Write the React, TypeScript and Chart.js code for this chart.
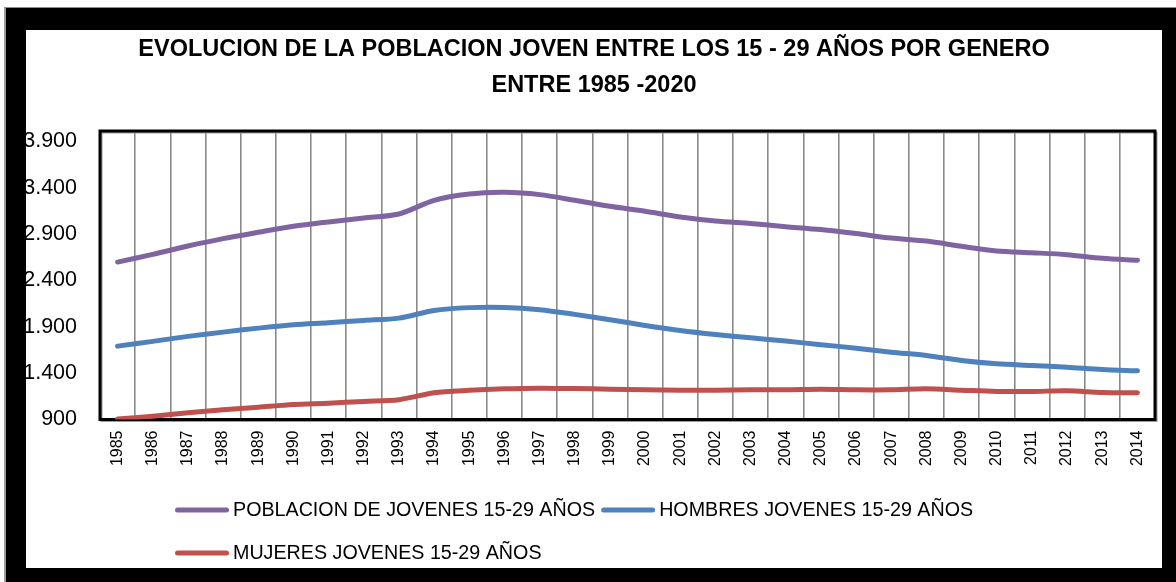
import React, { useEffect, useRef } from "react";
import { Chart, registerables } from "chart.js";

Chart.register(...registerables);

const years = ["1985","1986","1987","1988","1989","1990","1991","1992","1993","1994","1995","1996","1997","1998","1999","2000","2001","2002","2003","2004","2005","2006","2007","2008","2009","2010","2011","2012","2013","2014"];

const poblacion = [2597, 2680, 2770, 2850, 2918, 2983, 3030, 3072, 3115, 3263, 3331, 3349, 3324, 3263, 3198, 3144, 3083, 3040, 3012, 2979, 2947, 2904, 2856, 2824, 2767, 2716, 2698, 2677, 2637, 2616];
const hombres = [1691, 1742, 1796, 1842, 1885, 1922, 1943, 1968, 1993, 2076, 2106, 2108, 2083, 2033, 1976, 1914, 1860, 1817, 1781, 1745, 1707, 1669, 1626, 1591, 1537, 1501, 1483, 1464, 1440, 1425];
const mujeres = [905, 936, 972, 1005, 1033, 1062, 1076, 1095, 1113, 1188, 1215, 1231, 1238, 1234, 1227, 1220, 1216, 1216, 1220, 1220, 1227, 1220, 1220, 1231, 1216, 1202, 1202, 1210, 1191, 1188];

const seriesNames = ["POBLACION DE JOVENES 15-29 AÑOS", "HOMBRES JOVENES 15-29 AÑOS", "MUJERES JOVENES 15-29 AÑOS"];
const seriesColors = ["#8064A2", "#4F81BD", "#C0504D"];

const yTicks = [900, 1400, 1900, 2400, 2900, 3400, 3900];
const yMin = 900;
const yMax = 4010;

const titleLines = ["EVOLUCION DE LA POBLACION JOVEN ENTRE LOS 15 - 29 AÑOS POR GENERO", "ENTRE 1985 -2020"];

const FONT = "'Liberation Sans', Arial, sans-serif";

function fmt(v: number): string {
  return String(Math.round(v)).replace(/\B(?=(\d{3})+(?!\d))/g, ".");
}

const framePlugin = {
  id: "frame",
  beforeDatasetsDraw(chart: any) {
    const { ctx, chartArea: a } = chart;
    ctx.save();
    ctx.strokeStyle = "#9a9a9a";
    ctx.lineWidth = 2;
    ctx.strokeRect(a.left + 1.5, a.top + 1.5, a.right - a.left, a.bottom - a.top);
    ctx.strokeStyle = "#000";
    ctx.lineWidth = 3;
    ctx.strokeRect(a.left, a.top, a.right - a.left, a.bottom - a.top);
    ctx.restore();
  },
};

const legendPlugin = {
  id: "customLegend",
  afterDraw(chart: any) {
    const { ctx } = chart;
    const ds = chart.data.datasets;
    ctx.save();
    ctx.font = `19.7px ${FONT}`;
    ctx.textBaseline = "middle";
    ctx.textAlign = "left";
    const drawItem = (i: number, x: number, y: number) => {
      ctx.strokeStyle = ds[i].borderColor;
      ctx.lineWidth = 5;
      ctx.lineCap = "round";
      ctx.beginPath();
      ctx.moveTo(x + 2.5, y);
      ctx.lineTo(x + 51.5, y);
      ctx.stroke();
      ctx.fillStyle = "#000";
      ctx.fillText(ds[i].label, x + 58, y + 1);
      return x + 58 + ctx.measureText(ds[i].label).width;
    };
    const row1 = 480;
    const row2 = 523;
    const x0 = 149;
    const end1 = drawItem(0, x0, row1);
    drawItem(1, end1 + 6, row1);
    drawItem(2, x0, row2);
    ctx.restore();
  },
};

export default function App() {
  const ref = useRef<HTMLCanvasElement>(null);
  useEffect(() => {
    if (!ref.current) return;
    const seriesData = [poblacion, hombres, mujeres];
    const chart = new Chart(ref.current, {
      type: "line",
      data: {
        labels: years,
        datasets: seriesData.map((d, i) => ({
          label: seriesNames[i],
          data: d,
          borderColor: seriesColors[i],
          backgroundColor: seriesColors[i],
          borderWidth: 5,
          pointRadius: 0,
          tension: 0.3,
          borderCapStyle: "round" as const,
          borderJoinStyle: "round" as const,
          fill: false,
        })),
      },
      options: {
        responsive: false,
        animation: false,
        layout: { padding: { left: 0, right: 0, top: 0, bottom: 98.5 } },
        plugins: {
          legend: { display: false },
          tooltip: { enabled: false },
          title: {
            display: true,
            text: titleLines,
            color: "#000",
            font: { family: FONT, size: 23.5, weight: "bold", lineHeight: "36px" },
            padding: { top: 2, bottom: 27 },
          },
        },
        scales: {
          x: {
            offset: true,
            grid: { display: true, offset: true, color: "#8a8a8a", lineWidth: 1.6, drawTicks: false },
            border: { display: false },
            ticks: {
              color: "#000",
              font: { family: FONT, size: 16 },
              minRotation: 90,
              maxRotation: 90,
              autoSkip: false,
              padding: 11,
            },
            afterFit(scale: any) {
              scale.height = 50;
              scale.paddingLeft = 0;
              scale.paddingRight = 7;
            },
          },
          y: {
            min: yMin,
            max: yMax,
            grid: { display: false, drawTicks: false },
            border: { display: false },
            ticks: {
              color: "#000",
              font: { family: FONT, size: 21.5 },
              padding: 23,
              callback: (v: any) => fmt(Number(v)),
            },
            afterBuildTicks(scale: any) {
              scale.ticks = yTicks.map((v) => ({ value: v }));
            },
            afterFit(scale: any) {
              scale.width = 74;
              scale.paddingTop = 0;
              scale.paddingBottom = 0;
            },
          },
        },
      },
      plugins: [framePlugin, legendPlugin],
    });
    return () => chart.destroy();
  }, []);

  return (
    <div style={{ position: "absolute", left: 0, top: 0, width: 1176, height: 582, background: "#fff", overflow: "hidden" }}>
      <div style={{ position: "absolute", left: 4, top: 7, width: 1172, height: 575, borderTop: "1px solid #8c8c8c", borderLeft: "2px solid #9c9c9c", boxSizing: "border-box" }} />
      <div
        style={{
          position: "absolute",
          left: 6,
          top: 8,
          width: 1170,
          height: 574,
          boxSizing: "border-box",
          borderTop: "22px solid #000",
          borderLeft: "20px solid #000",
          borderRight: "14px solid #000",
          borderBottom: "14px solid #000",
          background: "#fff",
        }}
      >
        <canvas ref={ref} width={1136} height={538} style={{ display: "block", width: 1136, height: 538 }} />
      </div>
    </div>
  );
}
